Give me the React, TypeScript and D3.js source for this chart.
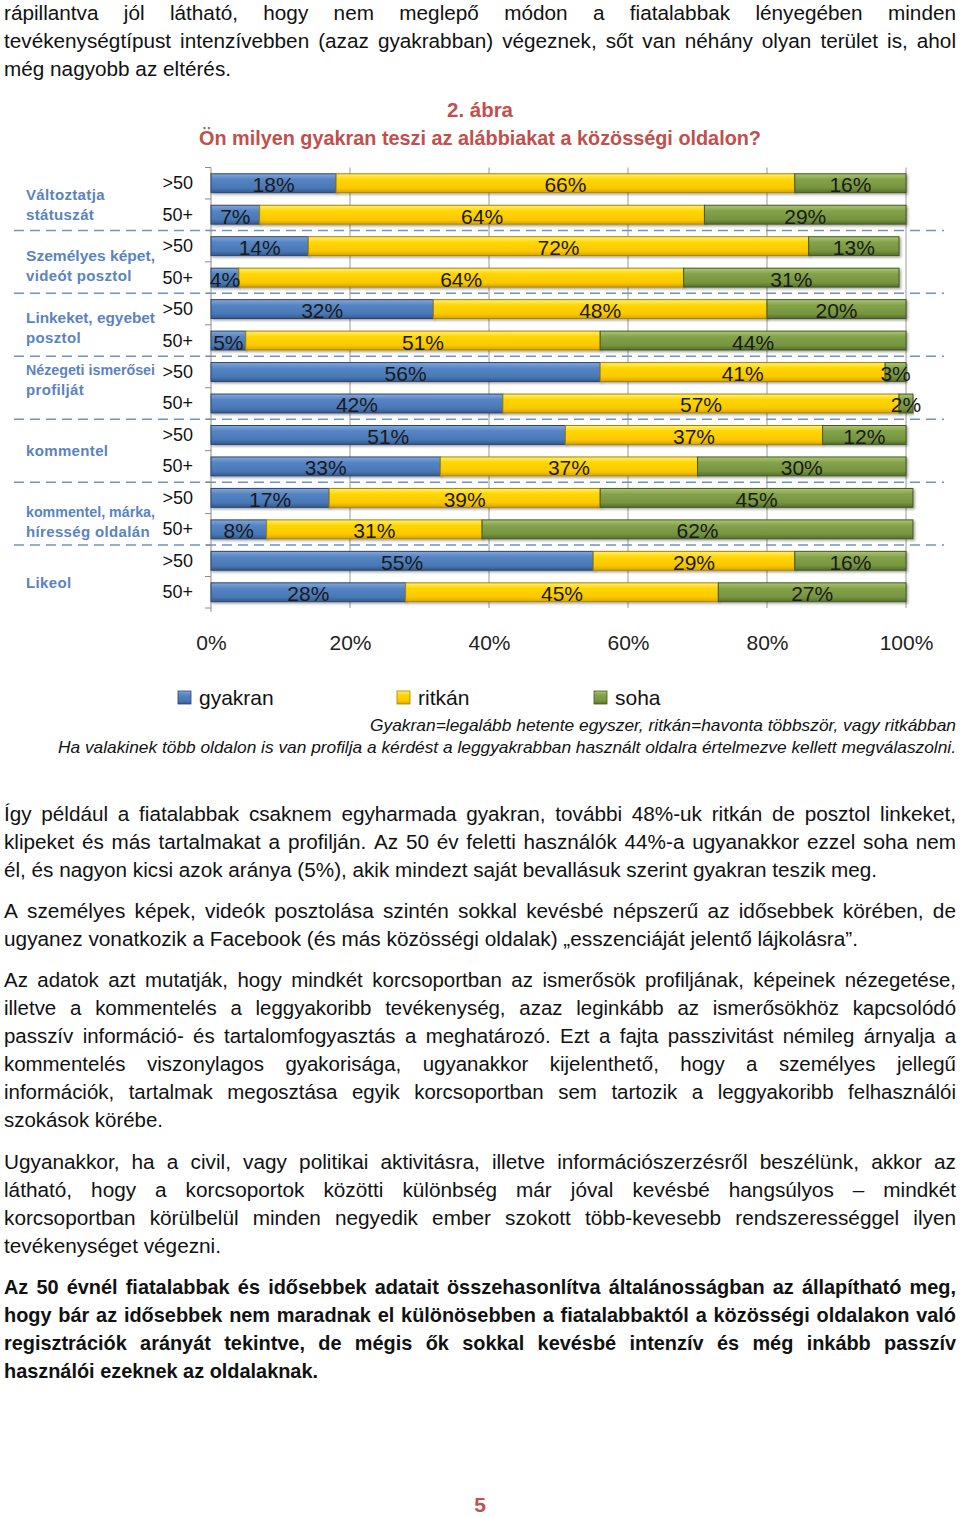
import React, { useEffect, useRef } from "react";
import * as d3 from "d3";

// chart data
const categories = [
  ["Változtatja", "státuszát"],
  ["Személyes képet,", "videót posztol"],
  ["Linkeket, egyebet", "posztol"],
  ["Nézegeti ismerősei", "profilját"],
  ["kommentel"],
  ["kommentel, márka,", "híresség oldalán"],
  ["Likeol"],
];
const ages = [">50", "50+"];
const seriesNames = ["gyakran", "ritkán", "soha"];
const gyakran = [18, 7, 14, 4, 32, 5, 56, 42, 51, 33, 17, 8, 55, 28];
const ritkan = [66, 64, 72, 64, 48, 51, 41, 57, 37, 37, 39, 31, 29, 45];
const soha = [16, 29, 13, 31, 20, 44, 3, 2, 12, 30, 45, 62, 16, 27];
const xTicks = [0, 20, 40, 60, 80, 100];

const figNumber = "2. ábra";
const figTitle = "Ön milyen gyakran teszi az alábbiakat a közösségi oldalon?";
const note1 = "Gyakran=legalább hetente egyszer, ritkán=havonta többször, vagy ritkábban";
const note2 = "Ha valakinek több oldalon is van profilja a kérdést a leggyakrabban használt oldalra értelmezve kellett megválaszolni.";

// page text, line by line as in the original
const paragraphs = [
  {
    lines: [
      "rápillantva jól látható, hogy nem meglepő módon a fiatalabbak lényegében minden",
      "tevékenységtípust intenzívebben (azaz gyakrabban) végeznek, sőt van néhány olyan terület is, ahol",
      "még nagyobb az eltérés.",
    ],
    y: 20, end: 231, bold: false,
  },
  {
    lines: [
      "Így például a fiatalabbak csaknem egyharmada gyakran, további 48%-uk ritkán de posztol linkeket,",
      "klipeket és más tartalmakat a profilján. Az 50 év feletti használók 44%-a ugyanakkor ezzel soha nem",
      "él, és nagyon kicsi azok aránya (5%), akik mindezt saját bevallásuk szerint gyakran teszik meg.",
    ],
    y: 821, end: 877, bold: false,
  },
  {
    lines: [
      "A személyes képek, videók posztolása szintén sokkal kevésbé népszerű az idősebbek körében, de",
      "ugyanez vonatkozik a Facebook (és más közösségi oldalak) „esszenciáját jelentő lájkolásra”.",
    ],
    y: 918, end: 858, bold: false,
  },
  {
    lines: [
      "Az adatok azt mutatják, hogy mindkét korcsoportban az ismerősök profiljának, képeinek nézegetése,",
      "illetve a kommentelés a leggyakoribb tevékenység, azaz leginkább az ismerősökhöz kapcsolódó",
      "passzív információ- és tartalomfogyasztás a meghatározó. Ezt a fajta passzivitást némileg árnyalja a",
      "kommentelés viszonylagos gyakorisága, ugyanakkor kijelenthető, hogy a személyes jellegű",
      "információk, tartalmak megosztása egyik korcsoportban sem tartozik a leggyakoribb felhasználói",
      "szokások körébe.",
    ],
    y: 987, end: 163, bold: false,
  },
  {
    lines: [
      "Ugyanakkor, ha a civil, vagy politikai aktivitásra, illetve információszerzésről beszélünk, akkor az",
      "látható, hogy a korcsoportok közötti különbség már jóval kevésbé hangsúlyos – mindkét",
      "korcsoportban körülbelül minden negyedik ember szokott több-kevesebb rendszerességgel ilyen",
      "tevékenységet végezni.",
    ],
    y: 1169, end: 221, bold: false,
  },
  {
    lines: [
      "Az 50 évnél fiatalabbak és idősebbek adatait összehasonlítva általánosságban az állapítható meg,",
      "hogy bár az idősebbek nem maradnak el különösebben a fiatalabbaktól a közösségi oldalakon való",
      "regisztrációk arányát tekintve, de mégis ők sokkal kevésbé intenzív és még inkább passzív",
      "használói ezeknek az oldalaknak.",
    ],
    y: 1294, end: 318, bold: true,
  },
];

const FONT = "'Liberation Sans', Arial, sans-serif";
const RED = "#c0504d";
const LABEL_BLUE = "#5b83bf";

const gradients = {
  gyakran: ["#86a8d6", "#5584c4", "#4a78b6", "#345a8c"],
  ritkán: ["#fff07a", "#ffd600", "#fcc800", "#d7a600"],
  soha: ["#adc676", "#84a24a", "#779540", "#55702a"],
};
const strokes = { gyakran: "#2a4670", ritkán: "#a88400", soha: "#435a20" };

// small vertical nudges of the wrapped category labels
const labelShift = [6, 4.5, 3, -7.5, 0, 8, 6];
const labelMaxRight = 155;

export default function App() {
  const ref = useRef<SVGSVGElement>(null);

  useEffect(() => {
    const svg = d3.select(ref.current);
    svg.selectAll("*").remove();

    const defs = svg.append("defs");
    seriesNames.forEach((s, i) => {
      const stops = gradients[s];
      const lg = defs.append("linearGradient")
        .attr("id", "grad" + i)
        .attr("x1", 0).attr("x2", 0).attr("y1", 0).attr("y2", 1);
      [0, 0.3, 0.75, 1].forEach((o, j) =>
        lg.append("stop").attr("offset", o).attr("stop-color", stops[j]));
    });
    const f = defs.append("filter").attr("id", "shadow")
      .attr("x", "-5%").attr("y", "-30%").attr("width", "110%").attr("height", "180%");
    f.append("feDropShadow").attr("dx", 1.5).attr("dy", 1.5)
      .attr("stdDeviation", 1).attr("flood-color", "#000").attr("flood-opacity", 0.35);

    // ---------- body text ----------
    const textG = svg.append("g").attr("font-family", FONT).attr("fill", "#111");
    const left = 4, right = 956, lh = 28, fs = 20.5;
    const measure = (str: string, bold: boolean) => {
      const t = textG.append("text").attr("font-size", fs)
        .attr("font-weight", bold ? "bold" : "normal").text(str);
      const w = (t.node() as SVGTextElement).getComputedTextLength();
      t.remove();
      return w;
    };
    paragraphs.forEach((p) => {
      const last = p.lines[p.lines.length - 1];
      const k = (p.end - left) / measure(last, p.bold);
      p.lines.forEach((line, i) => {
        const y = p.y + i * lh;
        if (i === p.lines.length - 1) {
          textG.append("text").attr("x", left).attr("y", y).attr("font-size", fs)
            .attr("font-weight", p.bold ? "bold" : "normal")
            .attr("textLength", p.end - left).attr("lengthAdjust", "spacingAndGlyphs")
            .text(line);
          return;
        }
        const words = line.split(" ");
        const widths = words.map((w) => measure(w, p.bold) * k);
        const total = d3.sum(widths);
        const gap = (right - left - total) / (words.length - 1);
        let x = left;
        words.forEach((w, j) => {
          textG.append("text").attr("x", x).attr("y", y).attr("font-size", fs)
            .attr("font-weight", p.bold ? "bold" : "normal")
            .attr("textLength", widths[j]).attr("lengthAdjust", "spacingAndGlyphs")
            .text(w);
          x += widths[j] + gap;
        });
      });
    });

    // page number
    textG.append("text").attr("x", 480).attr("y", 1512).attr("text-anchor", "middle")
      .attr("font-size", 21).attr("font-weight", "bold").attr("fill", RED).text("5");

    // ---------- chart ----------
    const chart = svg.append("g").attr("font-family", FONT);

    chart.append("text").attr("x", 480).attr("y", 117).attr("text-anchor", "middle")
      .attr("font-size", 21).attr("font-weight", "bold").attr("fill", RED)
      .attr("textLength", 66).attr("lengthAdjust", "spacingAndGlyphs").text(figNumber);
    chart.append("text").attr("x", 480).attr("y", 145).attr("text-anchor", "middle")
      .attr("font-size", 21).attr("font-weight", "bold").attr("fill", RED)
      .attr("textLength", 562).attr("lengthAdjust", "spacingAndGlyphs").text(figTitle);

    const rows = categories.flatMap((_, ci) => ages.map((_a, ai) => `${ci}-${ai}`));
    const table = rows.map((id, i) => ({
      id, gyakran: gyakran[i], ritkán: ritkan[i], soha: soha[i],
    }));
    const stacked = d3.stack<any>().keys(seriesNames)(table);

    const top = 167.5, bottom = 608;
    const x = d3.scaleLinear().domain([0, 100]).range([211, 906]);
    const y = d3.scaleBand().domain(rows).range([top, bottom])
      .paddingInner(0.4).paddingOuter(0.2);
    const step = y.step();
    const rowCenter = (id: string) => (y(id) as number) + y.bandwidth() / 2;

    // gridlines
    chart.append("g").selectAll("line").data(xTicks.slice(1)).join("line")
      .attr("x1", (d) => x(d)).attr("x2", (d) => x(d))
      .attr("y1", top).attr("y2", bottom)
      .attr("stroke", "#9a9a9a").attr("stroke-width", 1);

    // group separators
    const sepY = categories.slice(1).map((_, ci) => top + (ci + 1) * 2 * step);
    chart.append("g").selectAll("line").data(sepY).join("line")
      .attr("x1", 14).attr("x2", 944).attr("y1", (d) => d).attr("y2", (d) => d)
      .attr("stroke", "#6f93c3").attr("stroke-width", 1.5)
      .attr("stroke-dasharray", "10,6");

    // left axis with ticks at row boundaries
    chart.append("line").attr("x1", 211).attr("x2", 211).attr("y1", top).attr("y2", bottom + 4)
      .attr("stroke", "#8a8a8a");
    chart.append("g").selectAll("line").data(d3.range(rows.length + 1)).join("line")
      .attr("x1", 205).attr("x2", 211)
      .attr("y1", (i) => top + i * step).attr("y2", (i) => top + i * step)
      .attr("stroke", "#8a8a8a");

    // bars
    const barG = chart.append("g");
    stacked.forEach((layer, si) => {
      barG.append("g").selectAll("rect").data(layer).join("rect")
        .attr("x", (d) => x(d[0]))
        .attr("y", (d) => y(d.data.id) as number)
        .attr("width", (d) => x(d[1]) - x(d[0]))
        .attr("height", y.bandwidth())
        .attr("fill", `url(#grad${si})`)
        .attr("stroke", strokes[seriesNames[si]])
        .attr("stroke-width", 1)
        .attr("filter", "url(#shadow)");
    });
    stacked.forEach((layer) => {
      barG.append("g").selectAll("text").data(layer).join("text")
        .attr("x", (d) => (x(d[0]) + x(d[1])) / 2)
        .attr("y", (d) => rowCenter(d.data.id) + 1.5)
        .attr("dominant-baseline", "central")
        .attr("text-anchor", "middle")
        .attr("font-size", 21).attr("fill", "#1a1a1a")
        .text((d) => `${d[1] - d[0]}%`);
    });

    // x axis labels
    const ax = chart.append("g").attr("transform", "translate(0,635)")
      .call(d3.axisBottom(x).tickValues(xTicks).tickFormat((d) => `${d}%`)
        .tickSize(0).tickPadding(0));
    ax.select(".domain").remove();
    ax.selectAll("text").attr("font-size", 21).attr("font-family", FONT).attr("fill", "#222");

    // age sub-labels
    chart.append("g").selectAll("text").data(rows).join("text")
      .attr("x", 193).attr("y", (id) => rowCenter(id) + 6)
      .attr("text-anchor", "end").attr("font-size", 18).attr("fill", "#111")
      .text((id) => ages[+id.split("-")[1]]);

    // category labels
    categories.forEach((lines, ci) => {
      const mid = top + (ci * 2 + 1) * step + labelShift[ci];
      lines.forEach((ln, li) => {
        const yy = mid + (li - (lines.length - 1) / 2) * 20 + 5;
        const t = chart.append("text").attr("x", 26).attr("y", yy)
          .attr("font-size", 15).attr("font-weight", "bold")
          .attr("letter-spacing", 0.35).attr("fill", LABEL_BLUE).text(ln);
        const w = (t.node() as SVGTextElement).getComputedTextLength();
        if (26 + w > labelMaxRight) {
          t.attr("letter-spacing", 0)
            .attr("textLength", labelMaxRight - 26).attr("lengthAdjust", "spacingAndGlyphs");
        }
      });
    });

    // legend
    const legendX = [178, 397, 594];
    const lg = chart.append("g");
    seriesNames.forEach((s, i) => {
      lg.append("rect").attr("x", legendX[i]).attr("y", 691).attr("width", 13).attr("height", 13)
        .attr("fill", `url(#grad${i})`).attr("stroke", strokes[s]).attr("stroke-width", 0.8);
      lg.append("text").attr("x", legendX[i] + 21).attr("y", 705)
        .attr("font-size", 21).attr("fill", "#111").text(s);
    });

    // notes
    chart.append("text").attr("x", 956).attr("y", 731).attr("text-anchor", "end")
      .attr("font-size", 16.5).attr("font-style", "italic").attr("fill", "#111")
      .attr("textLength", 586).attr("lengthAdjust", "spacingAndGlyphs").text(note1);
    chart.append("text").attr("x", 58).attr("y", 753)
      .attr("font-size", 16.5).attr("font-style", "italic").attr("fill", "#111")
      .attr("textLength", 898).attr("lengthAdjust", "spacingAndGlyphs").text(note2);
  }, []);

  return (
    <svg
      ref={ref}
      width={960}
      height={1517}
      style={{ position: "absolute", left: 0, top: 0, background: "#fff" }}
    />
  );
}
